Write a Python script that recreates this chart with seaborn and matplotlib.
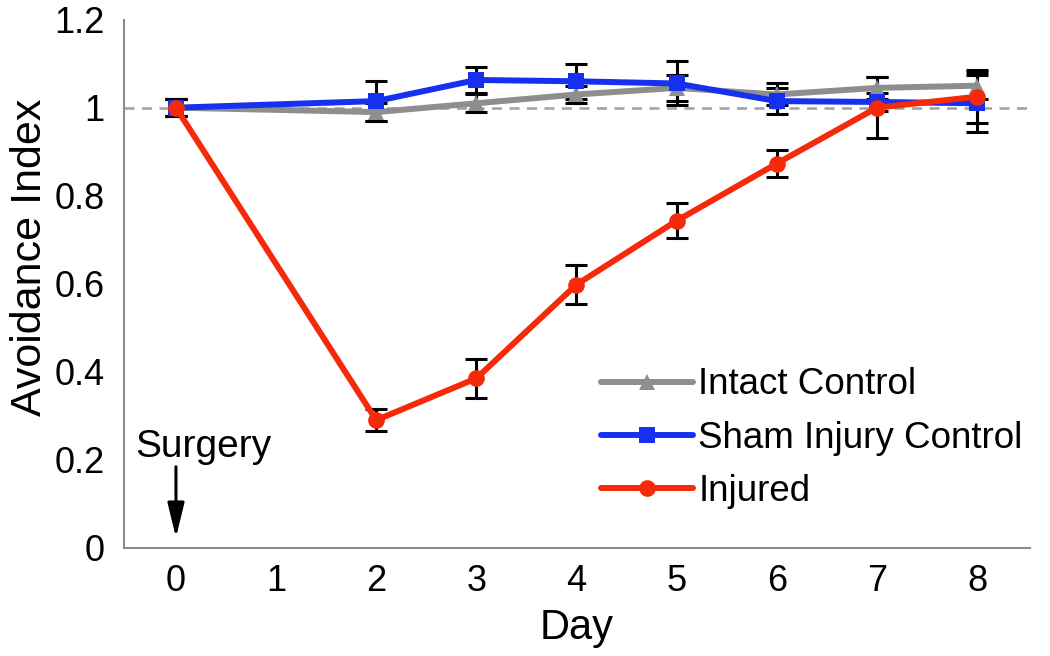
import pandas as pd
import matplotlib
matplotlib.use("Agg")
import matplotlib.pyplot as plt
import seaborn as sns

# ── Data ──────────────────────────────────────────────────
days = [0, 2, 3, 4, 5, 6, 7, 8]
groups = ["Intact Control", "Sham Injury Control", "Injured"]

intact = [1.00, 0.99, 1.01, 1.03, 1.045, 1.03, 1.045, 1.05]
intact_err = [0.02, 0.02, 0.02, 0.02, 0.03, 0.025, 0.025, 0.03]

sham = [1.00, 1.015, 1.063, 1.06, 1.055, 1.015, 1.013, 1.01]
sham_err = [0.02, 0.045, 0.03, 0.04, 0.05, 0.03, 0.02, 0.065]

injured = [1.00, 0.29, 0.385, 0.598, 0.743, 0.873, 1.00, 1.025]
injured_err = [0.02, 0.025, 0.045, 0.045, 0.04, 0.03, 0.07, 0.06]

x_ticks = [0, 1, 2, 3, 4, 5, 6, 7, 8]
y_ticks = [0, 0.2, 0.4, 0.6, 0.8, 1.0, 1.2]
y_ticklabels = ["0", "0.2", "0.4", "0.6", "0.8", "1", "1.2"]

colors = {"Intact Control": "#8e8e8e",
          "Sham Injury Control": "#1630f0",
          "Injured": "#f52a0a"}
markers = {"Intact Control": "^", "Sham Injury Control": "s", "Injured": "o"}

df = pd.DataFrame({
    "Day": days * 3,
    "Avoidance Index": intact + sham + injured,
    "Group": [g for g in groups for _ in days],
})
errs = {"Intact Control": intact_err, "Sham Injury Control": sham_err, "Injured": injured_err}

# ── Plot ──────────────────────────────────────────────────
sns.set_style("white")
plt.rcParams["font.family"] = ["Liberation Sans", "DejaVu Sans"]
plt.rcParams["text.color"] = "black"
plt.rcParams["axes.labelcolor"] = "black"

fig = plt.figure(figsize=(10.5, 6.56), dpi=100)
ax = fig.add_axes([0.118, 0.165, 0.863, 0.805])

ax.axhline(1.0, color="#a0a0a0", lw=1.8, ls=(0, (4, 3)), zorder=1)

for g in groups:
    sub = df[df["Group"] == g]
    ax.errorbar(sub["Day"], sub["Avoidance Index"], yerr=errs[g], fmt="none",
                ecolor="black", elinewidth=2.2, capsize=8, capthick=2.2, zorder=2)

sns.lineplot(data=df, x="Day", y="Avoidance Index", hue="Group", style="Group",
             hue_order=groups, palette=colors, markers=markers, dashes=False,
             markersize=12, markeredgewidth=0, linewidth=4.3, ax=ax, zorder=3)

ax.set_xlim(-0.52, 8.53)
ax.set_ylim(0, 1.2)
ax.set_xticks(x_ticks)
ax.set_yticks(y_ticks)
ax.set_yticklabels(y_ticklabels)
ax.tick_params(axis="both", labelsize=26, colors="#8c8c8c", labelcolor="black",
               length=6, width=1.5, direction="out", pad=6)
ax.tick_params(axis="y", length=10, pad=4)
ax.set_xlabel("Day", fontsize=30, labelpad=6)
ax.set_ylabel("Avoidance Index", fontsize=31)
ax.yaxis.set_label_coords(-0.082, 0.55)

sns.despine(ax=ax)
for s in ["left", "bottom"]:
    ax.spines[s].set_color("#8c8c8c")
    ax.spines[s].set_linewidth(1.5)

# surgery marker
ax.text(0.27, 0.207, "Surgery", ha="center", va="baseline", fontsize=28)
ax.annotate("", xy=(0, 0.023), xytext=(0, 0.184),
            arrowprops=dict(arrowstyle="-|>,head_length=0.7,head_width=0.17",
                            color="black", lw=2.2, mutation_scale=30,
                            shrinkA=0, shrinkB=0))

leg = ax.legend(loc="lower left", bbox_to_anchor=(0.51, 0.045), frameon=False,
                fontsize=26.5, handlelength=2.5, handletextpad=0.15, labelspacing=0.5,
                borderaxespad=0)

fig.savefig("out.png", dpi=100)
